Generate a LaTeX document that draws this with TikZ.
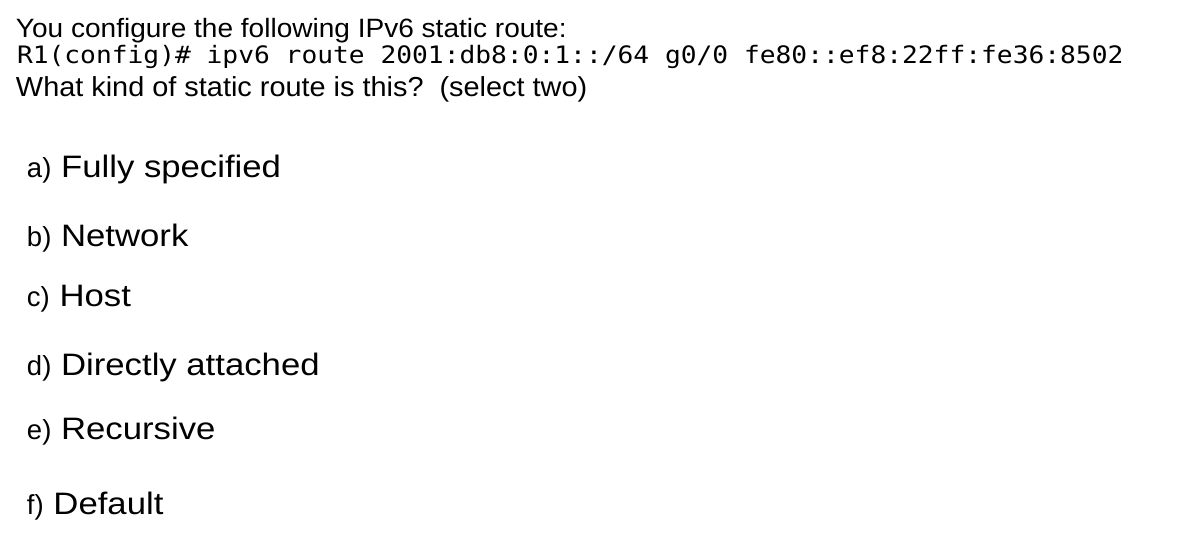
\documentclass[tikz,border=0pt]{standalone}
\usepackage{fontspec}
\setmainfont{Liberation Sans}
\newfontfamily\headfont[FakeStretch=1.058]{Liberation Sans}
\newfontfamily\qfont[FakeStretch=1.05]{Liberation Sans}
\newfontfamily\optfont[FakeStretch=1.12]{Liberation Sans}
\newfontfamily\letfont{Liberation Sans}
\newfontfamily\codefont[FakeStretch=1.094]{DejaVu Sans Mono}
\tikzset{
  txt/.style={anchor=base west, inner sep=0pt, outer sep=0pt, text=black},
  head/.style={txt, font=\headfont\fontsize{26.5}{30}\selectfont},
  quest/.style={txt, font=\qfont\fontsize{27.5}{30}\selectfont},
  code/.style={txt, font=\codefont\fontsize{24}{30}\selectfont},
  opt/.style={txt, font=\optfont\fontsize{31}{36}\selectfont},
}
\newcommand{\optletter}[1]{{\letfont\fontsize{27.5}{30}\selectfont #1}}
\begin{document}
\begin{tikzpicture}[x=1pt,y=-1pt]
\useasboundingbox[fill=white] (0,0) rectangle (1186,542);
\node[head] (l1) at (16,37) {You configure the following IPv6 static route:};
\node[code] (l2) at (17,63) {R1(config)\# ipv6 route 2001:db8:0:1::/64 g0/0 fe80::ef8:22ff:fe36:8502};
\node[quest] (l3) at (16,96.5) {What kind of static route is this?\ \ (select two)};
\node[opt] (oa) at (27,177) {\optletter{a)} Fully specified};
\node[opt] (ob) at (27,246) {\optletter{b)} Network};
\node[opt] (oc) at (27,306) {\optletter{c)} Host};
\node[opt] (od) at (27,375) {\optletter{d)} Directly attached};
\node[opt] (oe) at (27,439) {\optletter{e)} Recursive};
\node[opt] (of) at (27,514) {\optletter{f)} Default};
\end{tikzpicture}
\end{document}
